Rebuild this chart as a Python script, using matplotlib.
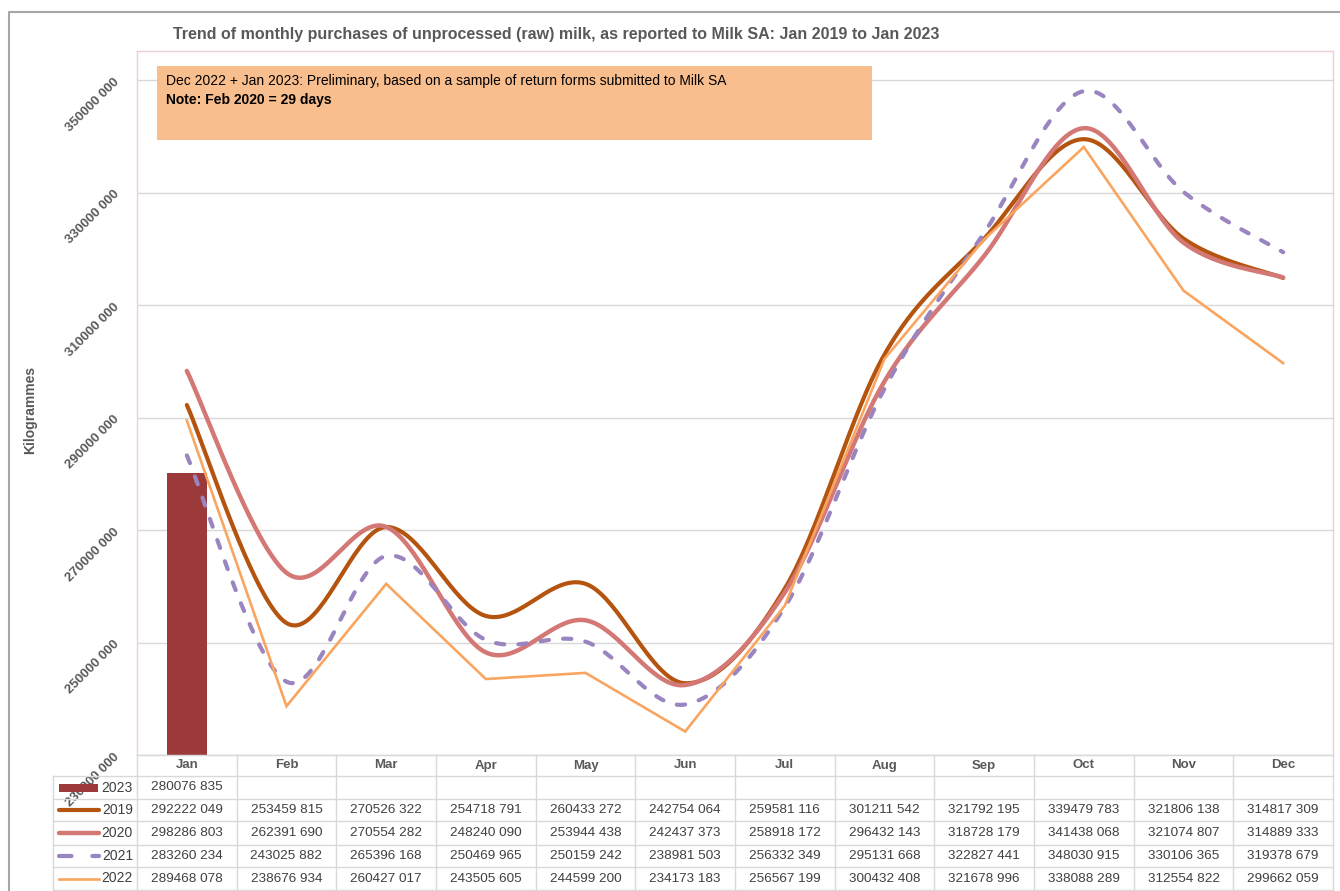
import numpy as np
import matplotlib
matplotlib.use("Agg")
import matplotlib.pyplot as plt
from matplotlib.patches import Rectangle
from matplotlib.lines import Line2D

plt.rcParams["font.family"] = ["Liberation Sans Narrow", "Liberation Sans", "DejaVu Sans"]

# Data (kg per month)
months = ["Jan", "Feb", "Mar", "Apr", "May", "Jun",
          "Jul", "Aug", "Sep", "Oct", "Nov", "Dec"]
y2023 = [280076835]
y2019 = [292222049, 253459815, 270526322, 254718791, 260433272, 242754064,
         259581116, 301211542, 321792195, 339479783, 321806138, 314817309]
y2020 = [298286803, 262391690, 270554282, 248240090, 253944438, 242437373,
         258918172, 296432143, 318728179, 341438068, 321074807, 314889333]
y2021 = [283260234, 243025882, 265396168, 250469965, 250159242, 238981503,
         256332349, 295131668, 322827441, 348030915, 330106365, 319378679]
y2022 = [289468078, 238676934, 260427017, 243505605, 244599200, 234173183,
         256567199, 300432408, 321678996, 338088289, 312554822, 299662059]
y_ticks = [230000000, 250000000, 270000000, 290000000, 310000000, 330000000, 350000000]

title = "Trend of monthly purchases of unprocessed (raw) milk, as reported to Milk SA: Jan 2019 to Jan 2023"
note1 = "Dec 2022 + Jan 2023: Preliminary, based on a sample of return forms submitted to Milk SA"
note2 = "Note: Feb 2020 = 29 days"

c2023 = "#9C3A39"
c2019 = "#B4540F"
c2020 = "#D37875"
c2021 = "#9A85C0"
c2022 = "#F9A560"
grey_txt = "#595959"
grid_col = "#D9D9D9"


def fmt(v):
    return f"{v // 1000} {v % 1000:03d}"


def smooth(y, n=40):
    # Excel-style smoothed line (Bezier through the points)
    y = np.asarray(y, dtype=float)
    x = np.arange(len(y), dtype=float)
    xs, ys = [], []
    for i in range(len(y) - 1):
        i0 = max(i - 1, 0)
        i3 = min(i + 2, len(y) - 1)
        p0 = np.array([x[i], y[i]])
        p3 = np.array([x[i + 1], y[i + 1]])
        c1 = p0 + (p3 - np.array([x[i0], y[i0]])) / 6
        c2 = p3 - (np.array([x[i3], y[i3]]) - p0) / 6
        t = np.linspace(0, 1, n)[:, None]
        pts = ((1 - t) ** 3) * p0 + 3 * ((1 - t) ** 2) * t * c1 + 3 * (1 - t) * t ** 2 * c2 + t ** 3 * p3
        xs.extend(pts[:, 0])
        ys.extend(pts[:, 1])
    return np.array(xs), np.array(ys)


W, H = 1340, 891
fig = plt.figure(figsize=(W / 100, H / 100), dpi=100)

# plot area in pixels
L, R, T, B = 137, 1333, 51, 755
ax = fig.add_axes([L / W, 1 - B / H, (R - L) / W, (B - T) / H])
x = np.arange(len(months))

ax.bar([0], y2023, width=0.4, color=c2023, zorder=2)
xs, ys = smooth(y2019)
ax.plot(xs, ys, color=c2019, lw=3.0, zorder=3, solid_capstyle="round")
xs, ys = smooth(y2020)
ax.plot(xs, ys, color=c2020, lw=3.2, zorder=4, solid_capstyle="round")
xs, ys = smooth(y2021)
ax.plot(xs, ys, color=c2021, lw=3.0, zorder=5, dashes=(2.0, 3.4),
        dash_capstyle="round")
ax.plot(x, y2022, color=c2022, lw=1.9, zorder=6, solid_joinstyle="miter")

ax.set_xlim(-0.5, 11.5)
ymin = y_ticks[0]
ymax = y_ticks[0] + (y_ticks[-1] - y_ticks[0]) * (B - T) / (B - 80)
ax.set_ylim(ymin, ymax)
ax.set_yticks(y_ticks)
ax.set_yticklabels([fmt(v) for v in y_ticks], rotation=45, ha="right",
                   va="center", rotation_mode="anchor", color=grey_txt,
                   fontsize=9.5, fontweight="bold")
ax.tick_params(axis="y", length=0, pad=14)
ax.set_xticks([])
ax.grid(axis="y", color=grid_col, lw=1)
ax.set_axisbelow(True)
for s in ["left", "right", "top"]:
    ax.spines[s].set_color("#EBCFD2")
    ax.spines[s].set_linewidth(1)
ax.spines["bottom"].set_color(grid_col)

# overlay in pixel coordinates for title, note, table and border
ov = fig.add_axes([0, 0, 1, 1], zorder=10)
ov.set_xlim(0, W)
ov.set_ylim(H, 0)
ov.axis("off")
ov.patch.set_alpha(0)

ov.plot([9, 9, W + 5], [H + 5, 12, 12], color="#A6A6A6", lw=1.5)

ov.text(556, 35, title, ha="center", va="center", fontsize=11.5,
        fontweight="bold", color=grey_txt)
ov.text(30, 410, "Kilogrammes", rotation=90, ha="center", va="center",
        fontsize=10, fontweight="bold", color=grey_txt)

ov.add_patch(Rectangle((157, 66), 872 - 157, 140 - 66, facecolor="#F9BE8E",
                       edgecolor="none"))
ov.text(166, 81, note1, ha="left", va="center", fontsize=10, color="black")
ov.text(166, 100, note2, ha="left", va="center", fontsize=10,
        fontweight="bold", color="black")

# data table
colw = (R - L) / len(months)
row_y = [755, 776, 799, 821, 845, 867, 890]
leg_l = 53
ov.plot([L, R], [row_y[0], row_y[0]], color=grid_col, lw=1)
for yy in row_y[1:]:
    ov.plot([leg_l, R], [yy, yy], color=grid_col, lw=1)
ov.plot([leg_l, leg_l], [row_y[1], row_y[-1]], color=grid_col, lw=1)
for i in range(len(months) + 1):
    ov.plot([L + i * colw] * 2, [row_y[0], row_y[-1]], color=grid_col, lw=1)
for i, m in enumerate(months):
    ov.text(L + (i + 0.5) * colw, (row_y[0] + row_y[1]) / 2, m, ha="center",
            va="center", fontsize=9.5, fontweight="bold", color=grey_txt)

rows = [("2023", y2023), ("2019", y2019), ("2020", y2020),
        ("2021", y2021), ("2022", y2022)]
for r, (name, vals) in enumerate(rows):
    yc = (row_y[r + 1] + row_y[r + 2]) / 2
    for i, v in enumerate(vals):
        ov.text(L + (i + 0.5) * colw, yc, fmt(v), ha="center", va="center",
                fontsize=9.7, color="#404040")
    ov.text(133, yc, name, ha="right", va="center", fontsize=10,
            color="#404040")

yc = lambda r: (row_y[r + 1] + row_y[r + 2]) / 2
ov.add_patch(Rectangle((59, yc(0) - 4), 39, 8, facecolor=c2023, edgecolor="none"))
ov.add_line(Line2D([59, 99], [yc(1)] * 2, color=c2019, lw=3.0, solid_capstyle="round"))
ov.add_line(Line2D([59, 99], [yc(2)] * 2, color=c2020, lw=3.2, solid_capstyle="round"))
ov.add_line(Line2D([59, 99], [yc(3)] * 2, color=c2021, lw=3.0, dashes=(3.0, 5.0),
                   dash_capstyle="round"))
ov.add_line(Line2D([59, 99], [yc(4)] * 2, color=c2022, lw=1.9))

fig.savefig("out.png", dpi=100)
